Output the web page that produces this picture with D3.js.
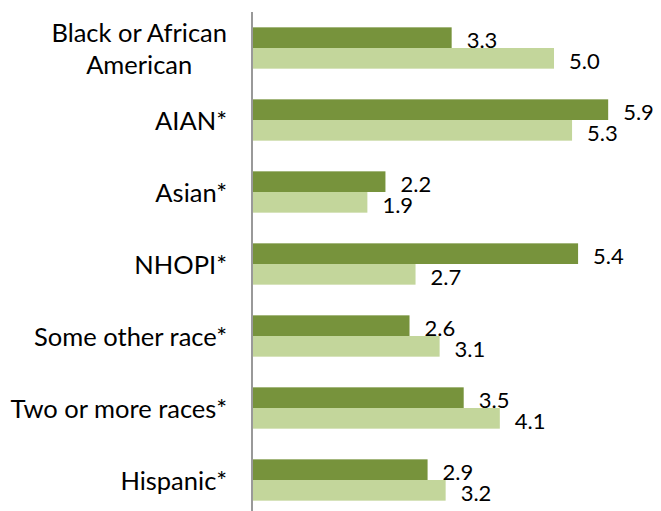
<!DOCTYPE html>
<html>
<head>
<meta charset="utf-8">
<script src="https://cdn.jsdelivr.net/npm/d3@7"></script>
<style>
  html, body { margin: 0; padding: 0; background: #fff; }
  svg { display: block; }
</style>
</head>
<body>
<svg id="chart" width="661" height="511"></svg>
<script>
const categories = [
  ["Black or African", "American"],
  ["AIAN*"],
  ["Asian*"],
  ["NHOPI*"],
  ["Some other race*"],
  ["Two or more races*"],
  ["Hispanic*"]
];
const seriesNames = ["Series A", "Series B"];
const seriesA = [3.3, 5.9, 2.2, 5.4, 2.6, 3.5, 2.9];
const seriesB = [5.0, 5.3, 1.9, 2.7, 3.1, 4.1, 3.2];
const colors = ["#77933C", "#C3D69B"];

const W = 661, H = 511;
const svg = d3.select("#chart");
const keys = categories.map(c => c.join(" "));

const y = d3.scaleBand().domain(keys).range([12, 516]).paddingInner(0.426).paddingOuter(0.213);
const ySub = d3.scaleBand().domain(seriesNames).range([0, y.bandwidth()]);
const x = d3.scaleLinear().domain([0, 6.5]).range([253, 253 + 6.5 * 60.2]);

const font = "Lato, 'Open Sans', sans-serif";
const catSize = 25.5, valSize = 22;
const seriesData = [seriesA, seriesB];

seriesData.forEach((vals, si) => {
  const g = svg.append("g");
  g.selectAll("rect").data(vals).join("rect")
    .attr("x", x(0))
    .attr("y", (d, i) => y(keys[i]) + ySub(seriesNames[si]))
    .attr("width", d => x(d) - x(0))
    .attr("height", ySub.bandwidth())
    .attr("fill", colors[si]);
  g.selectAll("text").data(vals).join("text")
    .attr("x", d => x(d) + 15)
    .attr("y", (d, i) => y(keys[i]) + ySub(seriesNames[si]) + ySub.bandwidth() / 2 + 2)
    .attr("dominant-baseline", "central")
    .attr("font-family", font)
    .attr("font-size", valSize)
    .attr("fill", "#000")
    .text(d => d.toFixed(1));
});

// axis line
svg.append("line")
  .attr("x1", 252).attr("x2", 252)
  .attr("y1", 12).attr("y2", H)
  .attr("stroke", "#999").attr("stroke-width", 2);

// category labels (centered block, right-aligned)
const lab = svg.append("g");
categories.forEach((lines, i) => {
  const cy = y(keys[i]) + y.bandwidth() / 2;
  const lh = 32;
  const t = lab.append("text")
    .attr("font-family", font)
    .attr("font-size", catSize)
    .attr("fill", "#000")
    .attr("dominant-baseline", "central");
  if (lines.length === 1) {
    t.attr("x", 227).attr("y", cy).attr("text-anchor", "end").text(lines[0]);
  } else {
    const tmp = lab.append("text").attr("font-family", font).attr("font-size", catSize);
    const widths = lines.map(l => { tmp.text(l); return tmp.node().getComputedTextLength(); });
    tmp.remove();
    const maxW = d3.max(widths);
    const center = 227 - maxW / 2;
    lines.forEach((l, j) => {
      t.append("tspan")
        .attr("x", center)
        .attr("y", cy + (j - (lines.length - 1) / 2) * lh)
        .attr("text-anchor", "middle")
        .text(l);
    });
  }
});
</script>
</body>
</html>
